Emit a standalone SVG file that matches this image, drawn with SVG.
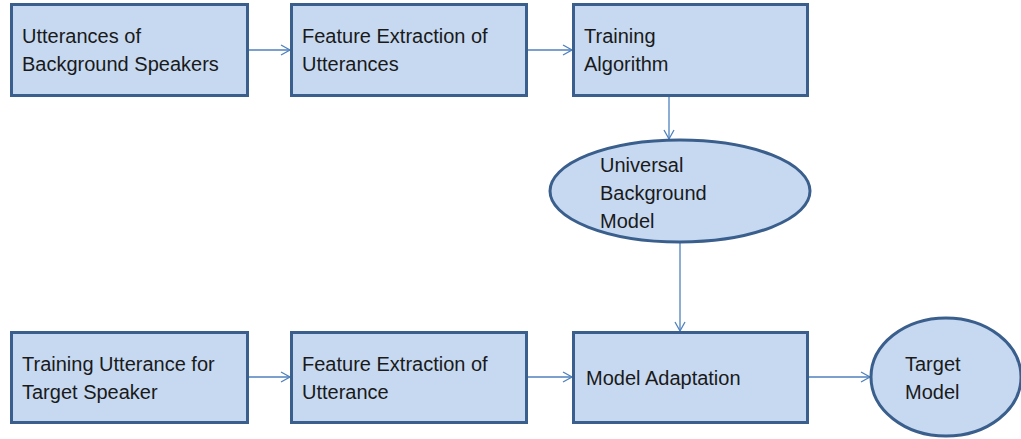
<svg xmlns="http://www.w3.org/2000/svg" width="1021" height="439" viewBox="0 0 1021 439">
<style>
.n{fill:#c6d9f1;stroke:#3a5f8c;stroke-width:3}
.t{font-family:"Liberation Sans",Arial,sans-serif;font-size:20px;fill:#1a1a1a}
.c{stroke:#4f81bd;stroke-width:1.3;fill:none}
</style>
<defs>
<marker id="a" markerWidth="12" markerHeight="12" refX="10" refY="6" orient="auto" markerUnits="userSpaceOnUse">
<path d="M1,1 L10,6 L1,11" fill="none" stroke="#4f81bd" stroke-width="1.3"/>
</marker>
</defs>
<rect width="1021" height="439" fill="#fff"/>
<g id="connectors">
<line class="c" x1="249" y1="50" x2="290" y2="50" marker-end="url(#a)"/>
<line class="c" x1="528" y1="50" x2="572" y2="50" marker-end="url(#a)"/>
<line class="c" x1="669" y1="97" x2="669" y2="139" marker-end="url(#a)"/>
<line class="c" x1="680" y1="243" x2="680" y2="331" marker-end="url(#a)"/>
<line class="c" x1="249" y1="377" x2="290" y2="377" marker-end="url(#a)"/>
<line class="c" x1="528" y1="377" x2="572" y2="377" marker-end="url(#a)"/>
<line class="c" x1="809" y1="377" x2="870" y2="377" marker-end="url(#a)"/>
</g>
<g id="n1"><rect class="n" x="11.5" y="4.5" width="236" height="91"/>
<text class="t" x="22" y="43">Utterances of</text><text class="t" x="22" y="71">Background Speakers</text></g>
<g id="n2"><rect class="n" x="291.5" y="4.5" width="235" height="91"/>
<text class="t" x="302" y="43">Feature Extraction of</text><text class="t" x="302" y="71">Utterances</text></g>
<g id="n3"><rect class="n" x="573.5" y="4.5" width="234" height="91"/>
<text class="t" x="584" y="43">Training</text><text class="t" x="584" y="71">Algorithm</text></g>
<g id="n4"><ellipse class="n" cx="680" cy="191" rx="130" ry="51"/>
<text class="t" x="600" y="172">Universal</text><text class="t" x="600" y="200">Background</text><text class="t" x="600" y="228">Model</text></g>
<g id="n5"><rect class="n" x="11.5" y="332.5" width="236" height="90"/>
<text class="t" x="22" y="371">Training Utterance for</text><text class="t" x="22" y="399">Target Speaker</text></g>
<g id="n6"><rect class="n" x="291.5" y="332.5" width="235" height="90"/>
<text class="t" x="302" y="371">Feature Extraction of</text><text class="t" x="302" y="399">Utterance</text></g>
<g id="n7"><rect class="n" x="573.5" y="332.5" width="234" height="90"/>
<text class="t" x="586" y="385">Model Adaptation</text></g>
<g id="n8"><ellipse class="n" cx="946" cy="377" rx="75" ry="59"/>
<text class="t" x="905" y="371">Target</text><text class="t" x="905" y="399">Model</text></g>
</svg>
